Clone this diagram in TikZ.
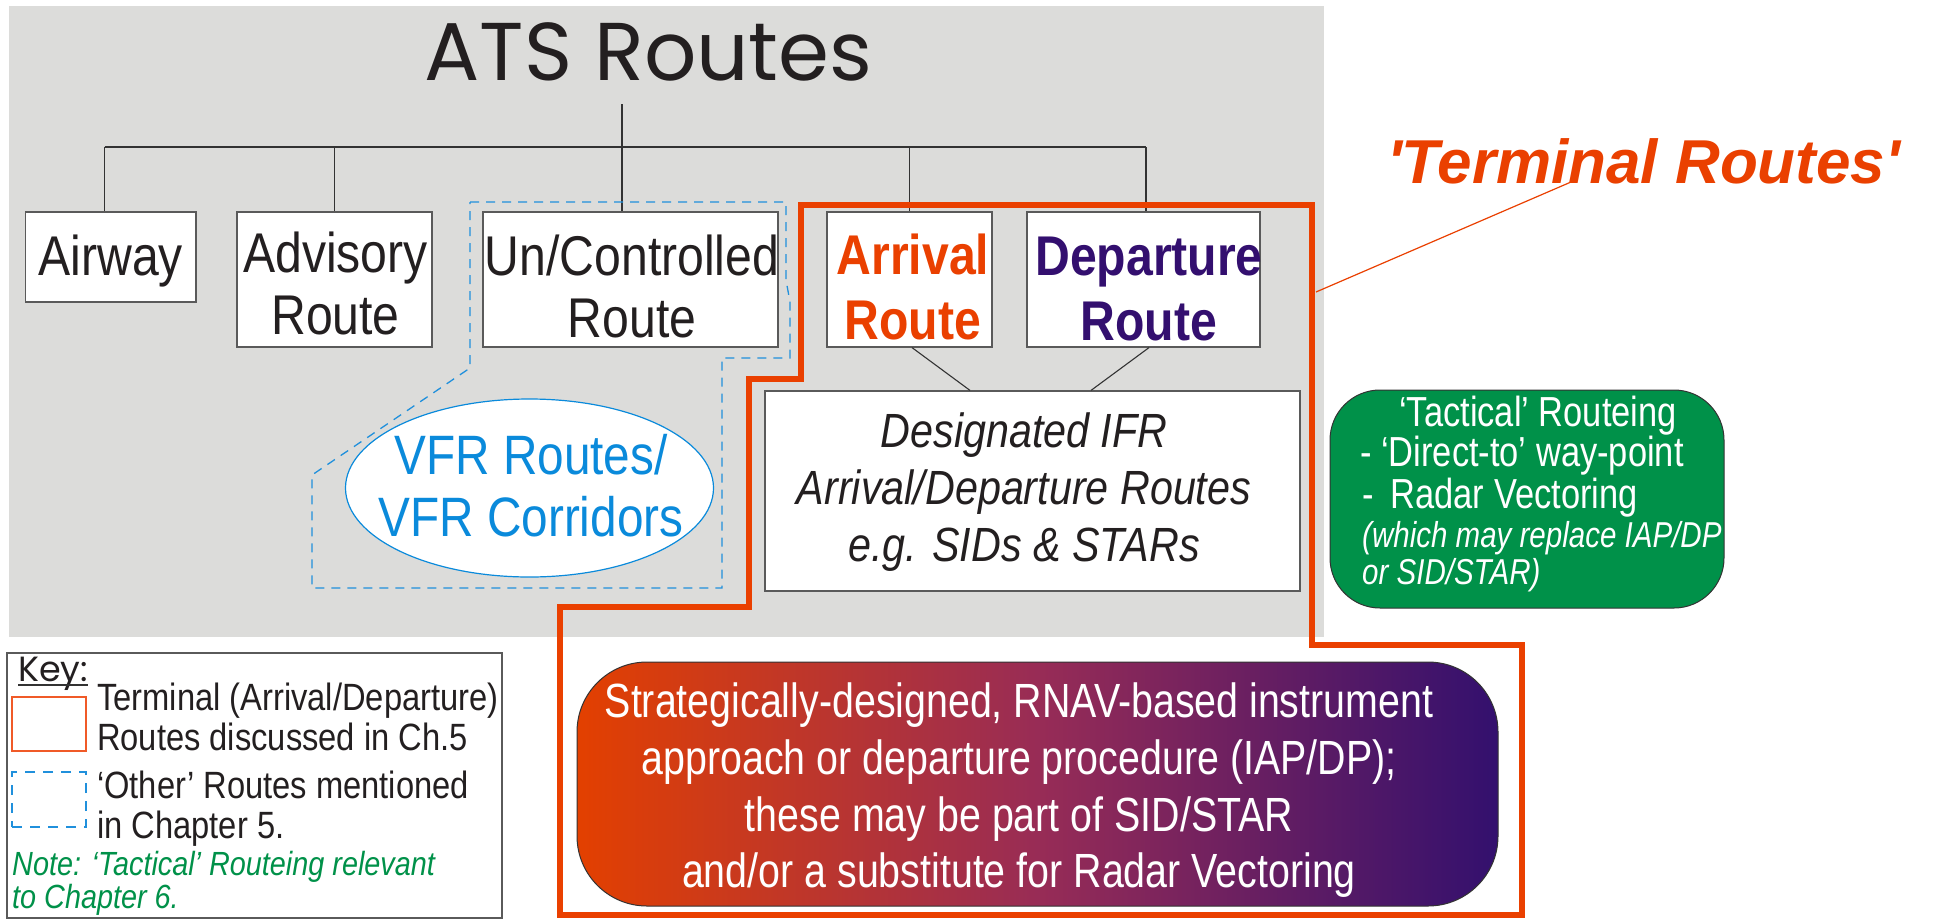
\documentclass[tikz,border=0pt]{standalone}
\usepackage{fontspec}
\setmainfont{Liberation Sans}
\newfontfamily\narw[FakeStretch=0.86]{Liberation Sans}
\newfontfamily\narr[FakeStretch=0.82]{Liberation Sans}
\newfontfamily\gothic{Poppins}
\newfontfamily\termfont[Ligatures=TeXOff]{Liberation Sans}
\usetikzlibrary{shapes.geometric}
\definecolor{bggray}{HTML}{DCDCDA}
\definecolor{termorange}{HTML}{EA4000}
\definecolor{keyorange}{HTML}{F05A28}
\definecolor{deppurple}{HTML}{330F6F}
\definecolor{vfrblue}{HTML}{0A8ADB}
\definecolor{dashblue}{HTML}{2090DC}
\definecolor{tacgreen}{HTML}{009149}
\definecolor{boxline}{HTML}{5A5A5A}
\definecolor{treeline}{HTML}{333333}
\definecolor{txt}{HTML}{231F20}
\definecolor{gradL}{HTML}{E34000}
\definecolor{gradM}{HTML}{982C56}
\definecolor{gradR}{HTML}{33106E}
\newcommand\boxfont{\narw\fontsize{56}{62}\selectfont}
\begin{document}
\begin{tikzpicture}[x=1pt,y=-1pt,
  box/.style={draw=boxline,line width=1.2pt,fill=white,inner sep=0pt},
  lbl/.style={inner sep=0pt,align=center,text=txt},
  tree/.style={draw=treeline,line width=1.1pt},
  otherroute/.style={draw=dashblue,line width=1.3pt,dash pattern=on 9pt off 7pt},
  termline/.style={draw=termorange,line width=6.5pt,line join=miter},
  leader/.style={draw=termorange,line width=1.2pt},
  vfrshape/.style={ellipse,draw=vfrblue,line width=1.2pt,fill=white,inner sep=0pt},
  greenbox/.style={draw=black!80,line width=1pt,fill=tacgreen,rounded corners=50pt,inner sep=0pt},
  gradbox/.style={draw=black!80,line width=1pt,rounded corners=70pt,inner sep=0pt,
     left color=gradL,right color=gradR,middle color=gradM},
  wlbl/.style={inner sep=0pt,text=white,anchor=base west},
  keytxt/.style={inner sep=0pt,text=txt,anchor=base west,font=\narw\fontsize{38}{40}\selectfont},
  notetxt/.style={inner sep=0pt,text=tacgreen,anchor=base west,font=\narw\itshape\fontsize{33.5}{34}\selectfont}]
\useasboundingbox (0,0) rectangle (1943,919);
\fill[white] (0,0) rectangle (1943,919);
\fill[bggray] (9,6) rectangle (1324,637);

% title
\node[lbl,anchor=base,font=\gothic\fontsize{82}{82}\selectfont] (ats) at (648.5,80) {ATS Routes};

% boxes
\node[box,minimum width=170.5pt,minimum height=90pt] (air) at (110.75,257) {};
\node[box,minimum width=195pt,minimum height=135pt] (adv) at (334.5,279.5) {};
\node[box,minimum width=295pt,minimum height=135pt] (un) at (630.5,279.5) {};
\node[box,minimum width=165pt,minimum height=135pt] (arr) at (909.5,279.5) {};
\node[box,minimum width=233pt,minimum height=135pt] (dep) at (1143.5,279.5) {};
\node[box,minimum width=535pt,minimum height=200pt] (des) at (1032.5,491) {};

% box texts
\node[lbl,font=\boxfont] (airt) at (110.75,261) {Airway};
\node[lbl,font=\boxfont] (advt) at (335.5,283.5) {Advisory\\Route};
\node[lbl,font=\boxfont] (unt) at (632,286.5) {Un/Controlled\\Route};
\node[lbl,font=\narw\bfseries\fontsize{56}{65}\selectfont,text=termorange] (arrt) at (913,287) {Arrival\\Route};
\node[lbl,font=\narw\bfseries\fontsize{56}{65}\selectfont,text=deppurple] (dept) at (1149,289) {Departure\\Route};
\node[lbl,font=\narw\itshape\fontsize{48}{57}\selectfont] (dest) at (1024,492.5) {Designated IFR\\Arrival/Departure Routes\\e.g. SIDs \& STARs};

% tree connectors
\coordinate (tt) at (622,104);
\coordinate (hl) at (104.5,147);
\coordinate (hr) at (1146,147);
\draw[tree] (hl) -- (hr);
\draw[tree] (hl) -- (hl |- air.north);
\draw[tree] (adv.north |- hl) -- (adv.north);
\draw[tree] (tt) -- (tt |- un.north);
\draw[tree] (arr.north |- hl) -- (arr.north);
\draw[tree] (hr) -- (hr |- dep.north);
\draw[tree] ([xshift=2.5pt]arr.south) -- ([xshift=-62.5pt]des.north);
\draw[tree] ([xshift=5.5pt]dep.south) -- ([xshift=58.5pt]des.north);

% other routes (dashed)
\draw[otherroute] (470,202) -- (786,202) -- (786,280) -- (790,302) -- (790,358) -- (722,358)
  -- (722,588) -- (312,588) -- (312,475) -- (470,368) -- cycle;
\node[vfrshape,minimum width=368pt,minimum height=178pt] (vfr) at (529.5,488) {};
\node[lbl,font=\narw\fontsize{55.5}{62}\selectfont,text=vfrblue] (vfrt) at (531,486) {VFR Routes/\\VFR Corridors};

% terminal routes outline
\draw[termline] (801,205) -- (1312,205) -- (1312,645) -- (1522,645) -- (1522,915) -- (560,915)
  -- (560,607) -- (749,607) -- (749,379) -- (801,379) -- cycle;
\coordinate (ldA) at (1316,292);
\coordinate (ldB) at (1571,182);
\draw[leader] (ldA) -- (ldB);
\node[inner sep=0pt,anchor=base west,text=termorange,font=\termfont\bfseries\itshape\fontsize{62}{62}\selectfont] (term) at (1387,183) {'Terminal Routes'};

% tactical routeing
\node[greenbox,minimum width=394pt,minimum height=218pt] (tac) at (1527,499) {};
\node[wlbl,font=\narr\fontsize{42}{42}\selectfont] (g1) at (1399,426) {‘Tactical’ Routeing};
\node[wlbl,font=\narr\fontsize{42}{42}\selectfont] (g2) at (1360,466) {- ‘Direct-to’ way-point};
\node[wlbl,font=\narr\fontsize{42}{42}\selectfont] (g3) at (1362,508) {-\hspace{17pt}Radar Vectoring};
\node[wlbl,font=\narr\itshape\fontsize{36}{36}\selectfont] (g4) at (1362,547) {(which may replace IAP/DP};
\node[wlbl,font=\narr\itshape\fontsize{36}{36}\selectfont] (g5) at (1362,584) {or SID/STAR)};

% strategic procedure
\node[gradbox,minimum width=921pt,minimum height=244pt] (grad) at (1037.5,784) {};
\node[inner sep=0pt,align=center,text=white,font=\narr\fontsize{48}{56.7}\selectfont] (gradt) at (1019,790.5)
  {Strategically-designed, RNAV-based instrument\\approach or departure procedure (IAP/DP);\\these may be part of SID/STAR\\and/or a substitute for Radar Vectoring};

% key
\node[draw=boxline,line width=1.2pt,inner sep=0pt,minimum width=495pt,minimum height=265pt] (key) at (254.5,785.5) {};
\node[inner sep=0pt,anchor=base west,text=txt,font=\gothic\fontsize{35}{35}\selectfont] (keyt) at (18,681) {Key:};
\draw[treeline,line width=1.2pt] ([yshift=-4pt]keyt.base west) -- ([yshift=-4pt]keyt.base east);
\node[draw=keyorange,line width=1.5pt,inner sep=0pt,minimum width=74pt,minimum height=54pt] (kor) at (49,724) {};
\node[draw=dashblue,line width=1.3pt,dash pattern=on 10pt off 8pt,inner sep=0pt,minimum width=74pt,minimum height=55pt] (kbl) at (49,799.5) {};
\node[keytxt] (kt1) at (97,710) {Terminal (Arrival/Departure)};
\node[keytxt] (kt2) at (97,750) {Routes discussed in Ch.5};
\node[keytxt] (kt3) at (97,798) {‘Other’ Routes mentioned};
\node[keytxt] (kt4) at (97,838) {in Chapter 5.};
\node[notetxt] (kn1) at (12,875) {Note: ‘Tactical’ Routeing relevant};
\node[notetxt] (kn2) at (12,908) {to Chapter 6.};
\end{tikzpicture}
\end{document}
